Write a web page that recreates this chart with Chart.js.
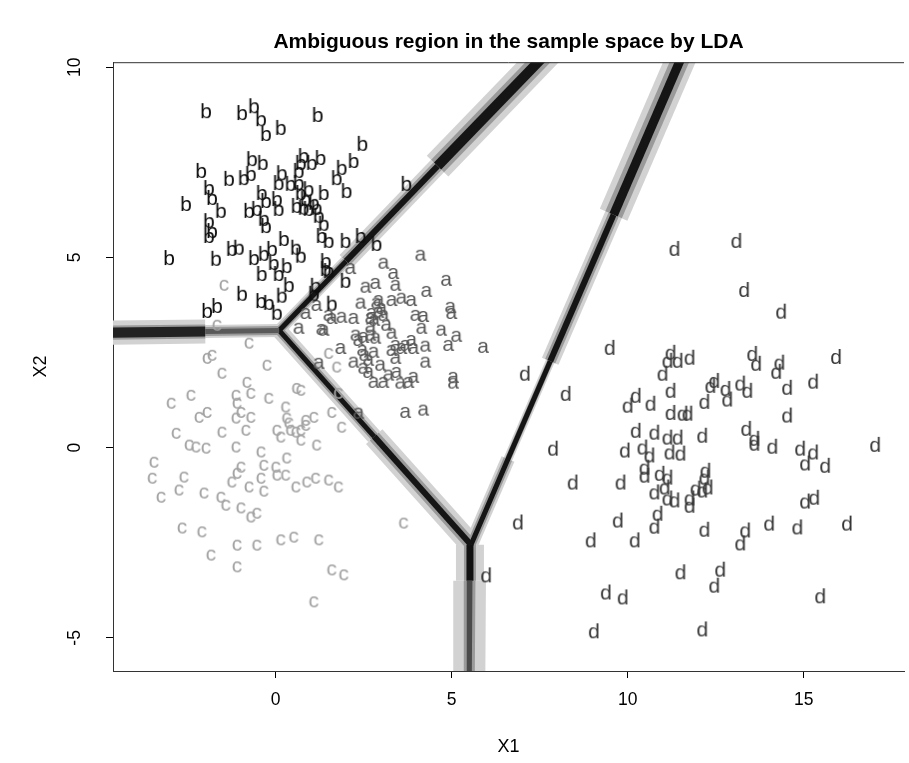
<!DOCTYPE html>
<html>
<head>
<meta charset="utf-8">
<script src="https://cdn.jsdelivr.net/npm/chart.js@4"></script>
<style>
  html, body { margin: 0; padding: 0; background: #fff; }
</style>
</head>
<body>
<canvas id="c" width="909" height="763"></canvas>
<script>
const FONT = '"Liberation Sans", Arial, Helvetica, sans-serif';

const X_RANGE = [-4.62, 17.85];
const Y_RANGE = [-5.87, 10.13];
const X_TICKS = [0, 5, 10, 15];
const Y_TICKS = [-5, 0, 5, 10];

// class a
const A_PTS = [
  [4.11, 5.07], [3.06, 4.86], [3.34, 4.59], [2.12, 4.72], [4.84, 4.41], [2.55, 4.23], [2.83, 4.33], [3.40, 4.28],
  [4.28, 4.12], [3.29, 3.88], [3.57, 3.94], [3.85, 3.88], [2.41, 3.81], [4.96, 3.70], [4.99, 3.54], [1.16, 3.75],
  [1.50, 3.49], [1.59, 3.41], [1.87, 3.44], [2.21, 3.41], [2.72, 3.54], [2.92, 3.57], [3.06, 3.49], [2.69, 3.41],
  [3.97, 3.49], [4.19, 3.46], [0.65, 3.15], [1.30, 3.12], [2.69, 3.18], [4.14, 3.15], [4.70, 3.10], [5.13, 2.94],
  [2.27, 2.97], [2.49, 2.91], [2.69, 2.97], [2.83, 2.89], [3.29, 3.02], [3.85, 2.83], [1.84, 2.62], [3.40, 2.70],
  [3.57, 2.62], [3.68, 2.70], [3.91, 2.62], [4.25, 2.68], [4.90, 2.70], [5.89, 2.65], [1.22, 2.23], [2.21, 2.26],
  [2.63, 2.31], [2.49, 2.10], [2.63, 1.99], [2.97, 2.18], [3.40, 2.36], [3.29, 2.57], [4.25, 2.26], [2.78, 1.73],
  [3.06, 1.73], [3.54, 1.71], [3.77, 1.73], [3.91, 1.86], [3.20, 1.92], [5.04, 1.86], [5.04, 1.71], [3.68, 0.94],
  [4.19, 1.00], [2.35, 0.92], [0.85, 3.54], [1.36, 3.10], [2.86, 3.81], [3.00, 3.67], [2.80, 3.36], [3.14, 3.23],
  [2.46, 2.57], [2.35, 2.83], [2.78, 2.52], [3.43, 1.99], [2.52, 2.44], [2.92, 3.88],
];

// class b
const B_PTS = [
  [-1.98, 8.87], [-0.96, 8.82], [-0.62, 9.00], [-0.42, 8.66], [-0.28, 8.27], [0.14, 8.43], [1.19, 8.77], [2.46, 8.01],
  [-0.68, 7.61], [-0.37, 7.51], [0.79, 7.69], [0.71, 7.51], [1.27, 7.64], [1.02, 7.51], [-2.12, 7.30], [-1.33, 7.09],
  [-0.91, 7.11], [-0.71, 7.22], [0.17, 7.24], [0.65, 7.30], [0.08, 6.98], [0.42, 6.96], [0.65, 6.98], [1.73, 7.11],
  [1.87, 7.38], [2.21, 7.56], [-1.90, 6.85], [-1.81, 6.59], [-1.56, 6.25], [-2.55, 6.43], [-0.40, 6.72], [-0.28, 6.51],
  [0.03, 6.56], [0.08, 6.30], [0.71, 6.72], [0.93, 6.82], [0.85, 6.56], [1.08, 6.46], [1.36, 6.72], [2.01, 6.77],
  [-0.76, 6.25], [-0.54, 6.30], [-0.34, 6.04], [-0.28, 5.85], [0.59, 6.38], [0.79, 6.33], [0.93, 6.30], [1.16, 6.33],
  [1.22, 6.12], [1.36, 5.91], [1.30, 5.59], [1.50, 5.46], [-1.90, 5.98], [-1.81, 5.72], [-1.90, 5.59], [-3.03, 5.01],
  [-1.70, 4.99], [-1.25, 5.25], [-1.05, 5.28], [-0.62, 5.01], [-0.34, 5.12], [-0.11, 5.25], [-0.06, 4.88], [0.31, 4.80],
  [0.23, 5.51], [0.57, 5.28], [0.71, 5.07], [1.42, 4.93], [1.50, 4.67], [1.98, 5.46], [2.41, 5.59], [2.86, 5.38],
  [3.71, 6.96], [-0.40, 4.59], [0.08, 4.59], [0.37, 4.30], [-0.96, 4.07], [-0.42, 3.88], [-0.20, 3.83], [0.17, 4.02],
  [1.13, 4.28], [1.98, 4.41], [0.03, 3.57], [-1.95, 3.62], [-1.67, 3.75], [1.59, 3.81], [1.08, 4.07], [1.42, 4.72],
];

// class c
const C_PTS = [
  [-0.76, 2.76], [-1.95, 2.36], [-1.81, 2.44], [-0.25, 2.18], [-1.53, 1.97], [-0.82, 1.73], [0.59, 1.57], [0.71, 1.52],
  [-2.41, 1.39], [-2.97, 1.18], [-1.13, 1.39], [-1.10, 1.18], [-0.71, 1.44], [-0.20, 1.31], [0.28, 1.08], [-0.99, 0.94],
  [-2.18, 0.81], [-1.95, 0.94], [-1.13, 0.79], [-0.71, 0.81], [0.31, 0.79], [0.37, 0.66], [0.85, 0.73], [1.08, 0.81],
  [0.03, 0.47], [0.14, 0.29], [0.42, 0.47], [0.57, 0.42], [0.71, 0.47], [0.85, 0.60], [-2.83, 0.39], [-1.53, 0.42],
  [-0.85, 0.47], [0.71, 0.21], [1.16, 0.08], [-2.46, 0.08], [-2.27, 0.03], [-1.98, 0.00], [-1.13, 0.03], [-0.42, -0.10],
  [-3.46, -0.37], [-0.99, -0.50], [-1.10, -0.66], [-0.34, -0.45], [0.00, -0.50], [0.03, -0.71], [0.28, -0.71], [0.31, -0.26],
  [-3.51, -0.79], [-2.61, -0.76], [-1.25, -0.89], [-0.42, -0.79], [-0.76, -1.02], [-0.34, -1.13], [0.57, -1.02], [0.88, -0.89],
  [1.13, -0.79], [1.50, -0.84], [1.78, -1.02], [-2.75, -1.10], [-3.26, -1.29], [-2.04, -1.18], [-1.56, -1.29], [-1.42, -1.50],
  [-0.99, -1.57], [-0.71, -1.81], [-0.54, -1.71], [-2.66, -2.10], [-2.10, -2.20], [-1.10, -2.55], [-0.54, -2.55], [0.14, -2.41],
  [0.51, -2.34], [1.22, -2.41], [-1.84, -2.81], [-1.10, -3.12], [1.59, -3.20], [1.93, -3.33], [1.08, -4.04], [3.63, -1.97],
  [1.87, 0.55], [1.50, 2.49], [1.73, 2.13], [1.59, 0.94], [1.78, 1.44], [-1.47, 4.28], [-1.67, 3.23],
];

// class d
const D_PTS = [
  [11.33, 5.25], [13.09, 5.46], [13.31, 4.17], [14.36, 3.60], [9.49, 2.65], [7.08, 1.97], [8.24, 1.44], [11.22, 2.52],
  [11.13, 2.31], [11.42, 2.31], [10.99, 1.97], [10.23, 1.39], [10.00, 1.13], [10.65, 1.18], [11.22, 1.52], [11.22, 0.94],
  [11.56, 0.92], [10.23, 0.47], [10.76, 0.42], [11.13, 0.29], [11.42, 0.29], [13.54, 2.49], [13.65, 2.23], [14.31, 2.26],
  [14.22, 2.02], [15.92, 2.41], [11.76, 2.39], [12.46, 1.78], [12.35, 1.65], [12.78, 1.57], [12.83, 1.29], [13.20, 1.71],
  [13.40, 1.52], [14.53, 1.60], [15.27, 1.76], [12.18, 1.23], [14.53, 0.87], [13.37, 0.52], [12.12, 0.34], [13.60, 0.26],
  [11.70, 0.92], [7.88, 0.00], [9.92, -0.05], [10.42, 0.03], [10.62, -0.18], [11.19, -0.10], [11.50, -0.13], [8.44, -0.89],
  [9.80, -0.89], [10.48, -0.50], [10.48, -0.71], [10.91, -0.66], [11.13, -0.76], [11.05, -1.02], [10.76, -1.15], [11.13, -1.31],
  [11.33, -1.36], [10.85, -1.71], [10.76, -2.05], [9.72, -1.89], [8.95, -2.41], [10.20, -2.41], [6.88, -1.94], [5.98, -3.33],
  [11.50, -3.25], [9.38, -3.78], [9.86, -3.91], [9.04, -4.80], [13.60, 0.13], [14.11, 0.05], [14.90, 0.00], [15.27, -0.10],
  [15.04, -0.39], [15.61, -0.45], [17.03, 0.10], [12.21, -0.58], [12.18, -0.76], [11.93, -1.05], [12.27, -1.02], [12.12, -1.10],
  [11.76, -1.31], [11.76, -1.50], [15.04, -1.39], [15.30, -1.29], [12.18, -2.13], [13.34, -2.15], [13.20, -2.49], [14.02, -1.97],
  [14.82, -2.07], [16.23, -1.97], [12.63, -3.18], [12.46, -3.60], [15.47, -3.88], [12.12, -4.75],
];

// where the ambiguous band runs (class boundaries), vertices
const BC_LINE = [[-4.9, 3.02], [-2.0, 3.05], [0.1, 3.08]];
const AB_LINE = [[0.1, 3.08], [2.0, 4.90], [4.6, 7.40], [7.84, 10.5]];
const AC_LINE = [[0.1, 3.08], [2.8, 0.29], [5.55, -2.55]];
const CD_LINE = [[5.52, -2.55], [5.52, -3.5], [5.5, -6.3]];
const AD_LINE = [[5.55, -2.55], [6.6, -0.30], [7.8, 2.27], [9.6, 6.12], [11.64, 10.5]];

// band look per segment (px widths)
const BANDS = [
  { pts: BC_LINE, halo: [24, 13], mid: [14, 9], core: [10, 5], coreColor: ['#222', '#5a5a5a'] },
  { pts: AB_LINE, halo: [12, 18, 30], mid: [8, 11, 18], core: [5, 6, 10] },
  { pts: AC_LINE, halo: [16, 22], mid: [9, 12], core: [5, 6] },
  { pts: CD_LINE, halo: [28, 32], mid: [12, 11], core: [7, 5], coreColor: ['#111', '#4a4a4a'] },
  { pts: AD_LINE, halo: [14, 9, 18, 30], mid: [9, 6, 11, 18], core: [5, 5, 6, 9] },
];
const LAYER_COLORS = { halo: '#d2d2d2', mid: '#9a9a9a', core: '#151515' };

function glyph(ch, color) {
  const cv = document.createElement('canvas');
  cv.width = 24;
  cv.height = 28;
  const g = cv.getContext('2d');
  g.font = '21px ' + FONT;
  g.fillStyle = color;
  g.textAlign = 'center';
  g.textBaseline = 'alphabetic';
  const m = g.measureText(ch);
  g.fillText(ch, 12, 14 + (m.actualBoundingBoxAscent - m.actualBoundingBoxDescent) / 2);
  return cv;
}

const toXY = (pts) => pts.map((p) => ({ x: p[0], y: p[1] }));

const datasets = [];

// letters on top
[
  ['b', B_PTS, '#0e0e0e'],
  ['d', D_PTS, '#363636'],
  ['a', A_PTS, '#585858'],
  ['c', C_PTS, '#a2a2a2'],
].forEach(([ch, pts, color], i) => {
  datasets.push({
    label: ch,
    data: toXY(pts),
    pointStyle: glyph(ch, color),
    pointRadius: 3,
    order: i,
  });
});

// ambiguous band, three layers
['core', 'mid', 'halo'].forEach((layer, li) => {
  BANDS.forEach((b) => {
    const widths = b[layer];
    const colors = layer === 'core' && b.coreColor ? b.coreColor : null;
    datasets.push({
      data: toXY(b.pts),
      showLine: true,
      pointRadius: 0,
      borderColor: LAYER_COLORS[layer],
      borderWidth: widths[0],
      borderCapStyle: 'butt',
      borderJoinStyle: 'miter',
      clip: 0,
      order: 10 + li,
      segment: {
        borderWidth: (ctx) => widths[ctx.p0DataIndex],
        borderColor: (ctx) => (colors ? colors[ctx.p0DataIndex] : LAYER_COLORS[layer]),
      },
    });
  });
});

const frame = {
  id: 'frame',
  afterDraw(chart) {
    const { ctx, chartArea: a } = chart;
    ctx.save();
    ctx.strokeStyle = '#333';
    ctx.lineWidth = 1;
    ctx.beginPath();
    ctx.moveTo(a.left, a.top + 0.5);
    ctx.lineTo(a.right, a.top + 0.5);
    ctx.stroke();
    ctx.restore();
  },
};

new Chart(document.getElementById('c'), {
  type: 'scatter',
  data: { datasets },
  options: {
    responsive: false,
    animation: false,
    events: [],
    layout: { padding: { left: 0, right: 2, top: 0, bottom: 0 } },
    plugins: {
      legend: { display: false },
      tooltip: { enabled: false },
      title: {
        display: true,
        fullSize: false,
        text: 'Ambiguous region in the sample space by LDA',
        color: '#000',
        font: { family: FONT, size: 21, weight: 'bold', lineHeight: 1.2 },
        padding: { top: 30, bottom: 7 },
      },
    },
    scales: {
      x: {
        type: 'linear',
        min: X_RANGE[0],
        max: X_RANGE[1],
        afterBuildTicks: (s) => { s.ticks = X_TICKS.map((v) => ({ value: v })); },
        afterFit: (s) => { s.height = 92; },
        grid: { drawOnChartArea: false, drawTicks: true, tickLength: 7, tickColor: '#000' },
        border: { display: true, color: '#333', width: 1 },
        ticks: { color: '#000', padding: 12, font: { family: FONT, size: 17.5 } },
        title: {
          display: true,
          text: 'X1',
          color: '#000',
          font: { family: FONT, size: 18 },
          padding: { top: 0, bottom: 5 },
        },
      },
      y: {
        type: 'linear',
        min: Y_RANGE[0],
        max: Y_RANGE[1],
        afterBuildTicks: (s) => { s.ticks = Y_TICKS.map((v) => ({ value: v })); },
        afterFit: (s) => { s.width = 113; },
        grid: { drawOnChartArea: false, drawTicks: true, tickLength: 7, tickColor: '#000' },
        border: { display: true, color: '#333', width: 1 },
        ticks: {
          color: '#000',
          minRotation: 90,
          maxRotation: 90,
          crossAlign: 'center',
          padding: 21,
          font: { family: FONT, size: 17.5 },
        },
        title: {
          display: true,
          text: 'X2',
          color: '#000',
          font: { family: FONT, size: 18 },
          padding: { top: 30, bottom: 0 },
        },
      },
    },
  },
  plugins: [frame],
});
</script>
</body>
</html>
